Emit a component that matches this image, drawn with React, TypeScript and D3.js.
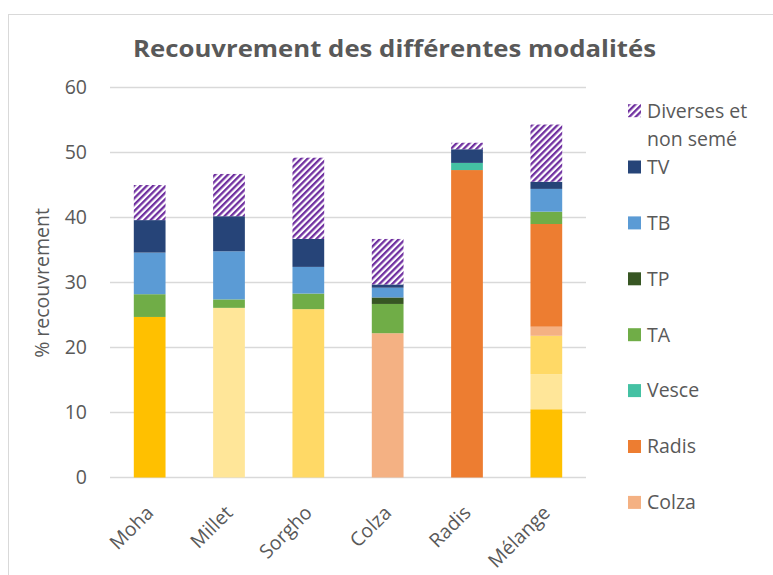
import React from 'react';
import * as d3 from 'd3';

const categories = ['Moha', 'Millet', 'Sorgho', 'Colza', 'Radis', 'Mélange'];

// series, from the bottom of the stack to the top
const moha = [24.7, 0, 0, 0, 0, 10.5];
const millet = [0, 26.1, 0, 0, 0, 5.4];
const sorgho = [0, 0, 25.9, 0, 0, 5.9];
const colza = [0, 0, 0, 22.2, 0, 1.4];
const radis = [0, 0, 0, 0, 47.3, 15.8];
const vesce = [0, 0, 0, 0, 1.1, 0];
const ta = [3.5, 1.3, 2.4, 4.5, 0, 1.9];
const tp = [0, 0, 0, 1.0, 0, 0];
const tb = [6.4, 7.4, 4.1, 1.5, 0, 3.5];
const tv = [5.0, 5.4, 4.3, 0.5, 2.1, 1.1];
const diverses = [5.4, 6.5, 12.5, 7.0, 1.0, 8.8];

const yTicks = [0, 10, 20, 30, 40, 50, 60];

const series = [
  { key: 'Moha', values: moha, color: '#FFC000' },
  { key: 'Millet', values: millet, color: '#FFE699' },
  { key: 'Sorgho', values: sorgho, color: '#FFD966' },
  { key: 'Colza', values: colza, color: '#F4B183' },
  { key: 'Radis', values: radis, color: '#ED7D31' },
  { key: 'Vesce', values: vesce, color: '#44C1A3' },
  { key: 'TA', values: ta, color: '#70AD47' },
  { key: 'TP', values: tp, color: '#375623' },
  { key: 'TB', values: tb, color: '#5B9BD5' },
  { key: 'TV', values: tv, color: '#264478' },
  { key: 'Diverses et non semé', values: diverses, color: 'url(#hatch)' },
];

// legend only shows the top entries (the rest is cut off in the original)
const legendKeys = ['Diverses et non semé', 'TV', 'TB', 'TP', 'TA', 'Vesce', 'Radis', 'Colza'];

const font = '"Open Sans", "Liberation Sans", sans-serif';
const textColor = '#595959';

export default function App() {
  const width = 773;
  const height = 575;

  const x = d3.scaleBand().domain(categories).range([110, 586]).paddingInner(0.6).paddingOuter(0.3);
  const y = d3.scaleLinear().domain([0, 60]).range([477.5, 87.5]);

  const table = categories.map((c, i) => {
    const row: any = { cat: c };
    series.forEach((s) => (row[s.key] = s.values[i]));
    return row;
  });
  const stacked = d3.stack().keys(series.map((s) => s.key))(table);

  const colorOf = (k: string) => series.find((s) => s.key === k)!.color;

  return (
    <svg width={width} height={height} style={{ position: 'absolute', left: 0, top: 0, background: '#fff' }}>
      <defs>
        <pattern id="hatch" width="4.5" height="4.5" patternUnits="userSpaceOnUse" patternTransform="rotate(45)">
          <rect width="4.5" height="4.5" fill="#fff" />
          <rect width="2.3" height="4.5" fill="#7030A0" />
        </pattern>
      </defs>
      <rect x={8.5} y={14.5} width={800} height={600} fill="#fff" stroke="#d9d9d9" />

      <text
        x={133}
        y={57}
        textLength={523}
        lengthAdjust="spacingAndGlyphs"
        fontFamily={font}
        fontWeight="bold"
        fontSize={24}
        fill={textColor}
      >
        Recouvrement des différentes modalités
      </text>

      {yTicks.map((t) => (
        <g key={t}>
          <line x1={110} x2={586} y1={y(t)} y2={y(t)} stroke="#d9d9d9" strokeWidth={1.5} />
          <text x={87} y={y(t)} dy="0.35em" textAnchor="end" fontFamily={font} fontSize={19.5} fill={textColor}>
            {t}
          </text>
        </g>
      ))}

      <text
        transform="translate(49,283) rotate(-90)"
        textAnchor="middle"
        fontFamily={font}
        fontSize={19.5}
        fill={textColor}
      >
        % recouvrement
      </text>

      {stacked.map((layer) => (
        <g key={layer.key} fill={colorOf(layer.key)}>
          {layer.map((d, i) =>
            d[1] - d[0] > 0 ? (
              <rect
                key={i}
                x={x(categories[i])}
                y={y(d[1])}
                width={x.bandwidth()}
                height={y(d[0]) - y(d[1])}
              />
            ) : null
          )}
        </g>
      ))}

      {categories.map((c) => (
        <text
          key={c}
          transform={`translate(${x(c)! + x.bandwidth() / 2 + 5},${514}) rotate(-45)`}
          textAnchor="end"
          fontFamily={font}
          fontSize={19.5}
          fill={textColor}
        >
          {c}
        </text>
      ))}

      {legendKeys.map((k, i) => {
        const cy = i === 0 ? 110.7 : 167 + (i - 1) * 55.9;
        return (
          <g key={k}>
            <rect x={628} y={cy - 6.5} width={13} height={13} fill={colorOf(k)} />
            {i === 0 ? (
              <text x={647} y={cy} dy="0.35em" fontFamily={font} fontSize={19.5} fill={textColor}>
                <tspan x={647}>Diverses et</tspan>
                <tspan x={647} dy={28}>non semé</tspan>
              </text>
            ) : (
              <text x={647} y={cy} dy="0.35em" fontFamily={font} fontSize={19.5} fill={textColor}>
                {k}
              </text>
            )}
          </g>
        );
      })}
    </svg>
  );
}
